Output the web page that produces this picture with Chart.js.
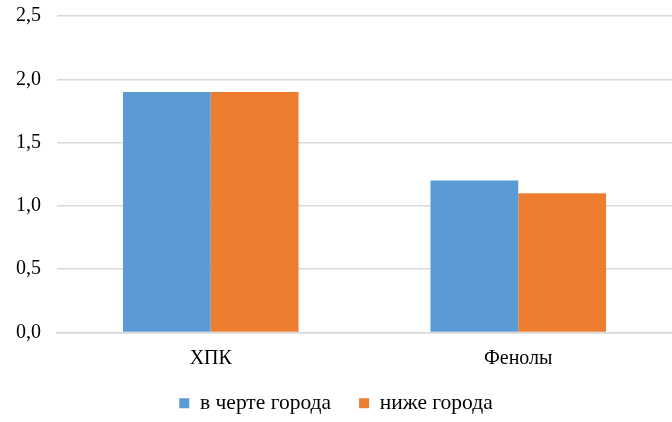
<!DOCTYPE html>
<html>
<head>
<meta charset="utf-8">
<script src="https://cdn.jsdelivr.net/npm/chart.js@4"></script>
<style>
  html, body { margin: 0; padding: 0; background: #fff; }
  #wrap { width: 672px; height: 422px; }
</style>
</head>
<body>
<div id="wrap"><canvas id="myChart" width="672" height="422"></canvas></div>
<script>
var categories = ['ХПК', 'Фенолы'];
var cityValues = [1.9, 1.2];
var belowValues = [1.9, 1.1];
var seriesNames = ['в черте города', 'ниже города'];

Chart.defaults.font.family = '"Liberation Serif", "Times New Roman", serif';
Chart.defaults.font.size = 20;
Chart.defaults.color = '#000';

var config = {
    type: 'bar',
    data: {
        labels: categories,
        datasets: [{
            label: seriesNames[0],
            backgroundColor: '#5B9BD5',
            data: cityValues
        }, {
            label: seriesNames[1],
            backgroundColor: '#ED7D31',
            data: belowValues
        }]
    },
    options: {
        responsive: false,
        animation: false,
        layout: {padding: {left: 0, right: 0, top: 16, bottom: -2}},
        datasets: {bar: {barPercentage: 1, categoryPercentage: 0.571}},
        scales: {
            y: {
                min: 0,
                max: 2.5,
                ticks: {
                    stepSize: 0.5,
                    padding: 16,
                    callback: function (v) { return v.toFixed(1).replace('.', ','); }
                },
                grid: {color: '#d9d9d9', lineWidth: 1.5, drawTicks: false},
                border: {display: false},
                afterFit: function (scale) {
                    scale.paddingTop = 0;
                    scale.paddingBottom = 0;
                }
            },
            x: {
                ticks: {padding: 14},
                grid: {display: false, drawTicks: false},
                border: {color: '#d9d9d9', width: 1.5},
                afterFit: function (scale) {
                    scale.height = 32;
                }
            }
        },
        plugins: {
            legend: {
                position: 'bottom',
                labels: {boxWidth: 10, boxHeight: 10, padding: 28, font: {size: 21.5}}
            },
            tooltip: {enabled: false}
        }
    }
};

var myChart = new Chart(document.getElementById('myChart'), config);
</script>
</body>
</html>
